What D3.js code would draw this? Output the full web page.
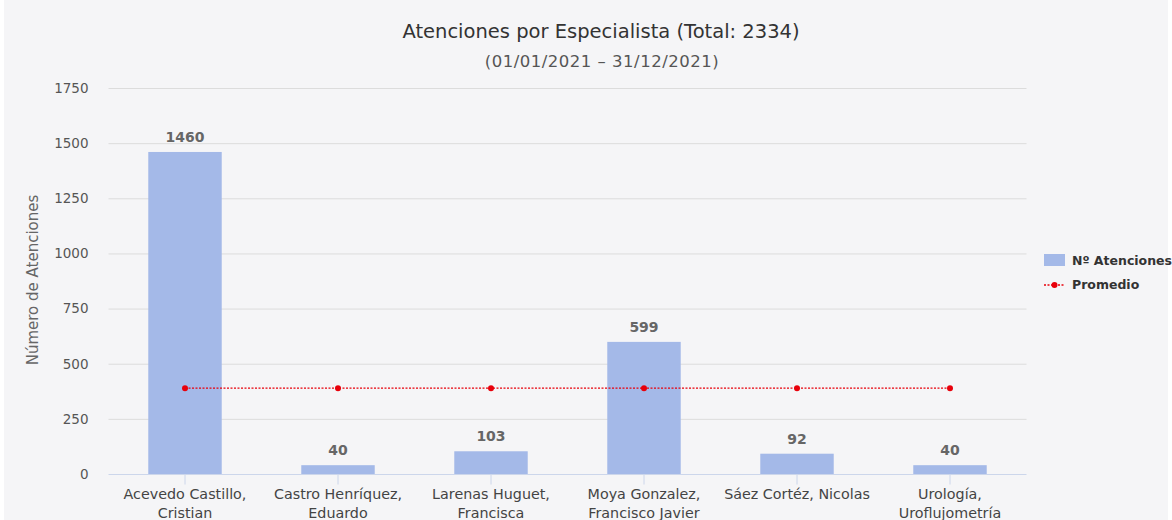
<!DOCTYPE html>
<html>
<head>
<meta charset="utf-8">
<script src="https://cdn.jsdelivr.net/npm/d3@7"></script>
<style>
  body { margin: 0; background: #fff; }
  svg { display: block; font-family: "DejaVu Sans", sans-serif; }
</style>
</head>
<body>
<div id="chart"></div>
<script>
// data
var especialistas = [
    ["Acevedo Castillo,", "Cristian"],
    ["Castro Henríquez,", "Eduardo"],
    ["Larenas Huguet,", "Francisca"],
    ["Moya Gonzalez,", "Francisco Javier"],
    ["Sáez Cortéz, Nicolas"],
    ["Urología,", "Uroflujometría"]
];
var atenciones = [1460, 40, 103, 599, 92, 40];
var promedio = [389, 389, 389, 389, 389, 389];
var yTicks = [0, 250, 500, 750, 1000, 1250, 1500, 1750];

var W = 1172, H = 520;
var plot = { left: 108.5, right: 1026.5, top: 88, bottom: 474 };

var svg = d3.select("#chart").append("svg")
    .attr("width", W)
    .attr("height", H);

svg.append("rect")
    .attr("x", 4).attr("y", 0)
    .attr("width", W - 8).attr("height", H)
    .attr("fill", "#f5f5f7");

var keys = especialistas.map(function (d, i) { return i; });

var x = d3.scaleBand()
    .domain(keys)
    .range([plot.left, plot.right])
    .paddingInner(0.52)
    .paddingOuter(0.26);

var y = d3.scaleLinear()
    .domain([0, 1750])
    .range([plot.bottom, plot.top]);

// gridlines
svg.append("g")
    .selectAll("line")
    .data(yTicks.slice(1))
    .enter()
    .append("line")
    .attr("x1", plot.left)
    .attr("x2", plot.right)
    .attr("y1", function (d) { return y(d) + 0.5; })
    .attr("y2", function (d) { return y(d) + 0.5; })
    .attr("stroke", "#dcdcdc");

// y axis
var yAxis = d3.axisLeft(y).tickValues(yTicks).tickFormat(d3.format("d")).tickSize(0).tickPadding(20);
var gy = svg.append("g")
    .attr("transform", "translate(" + plot.left + ",0)")
    .call(yAxis);
gy.select(".domain").remove();
gy.selectAll("text")
    .attr("fill", "#555")
    .attr("font-size", 13.5)
    .attr("font-family", "DejaVu Sans, sans-serif");

// bars
svg.append("g")
    .selectAll("rect")
    .data(atenciones)
    .enter()
    .append("rect")
    .attr("x", function (d, i) { return x(i); })
    .attr("y", function (d) { return y(d); })
    .attr("width", x.bandwidth())
    .attr("height", function (d) { return y(0) - y(d); })
    .attr("fill", "#a4b9e8");

// data labels
svg.append("g")
    .selectAll("text")
    .data(atenciones)
    .enter()
    .append("text")
    .attr("x", function (d, i) { return x(i) + x.bandwidth() / 2; })
    .attr("y", function (d) { return y(d) - 10; })
    .attr("text-anchor", "middle")
    .attr("font-size", 14)
    .attr("font-weight", "bold")
    .attr("fill", "#666")
    .text(function (d) { return d; });

// x axis
var xAxis = d3.axisBottom(x).tickSize(10).tickFormat("");
var gx = svg.append("g")
    .attr("transform", "translate(0," + (plot.bottom + 0.5) + ")")
    .call(xAxis);
gx.select(".domain")
    .attr("stroke", "#ccd6eb")
    .attr("d", "M" + plot.left + ",0H" + plot.right);
gx.selectAll(".tick line").attr("stroke", "#ccd6eb");

var xl = svg.append("g")
    .selectAll("text")
    .data(especialistas)
    .enter()
    .append("text")
    .attr("x", function (d, i) { return x(i) + x.bandwidth() / 2; })
    .attr("y", 499)
    .attr("text-anchor", "middle")
    .attr("font-size", 14.3)
    .attr("fill", "#444");
xl.selectAll("tspan")
    .data(function (d) { return d; })
    .enter()
    .append("tspan")
    .attr("x", function () { return d3.select(this.parentNode).attr("x"); })
    .attr("dy", function (d, i) { return i == 0 ? 0 : 19; })
    .text(function (d) { return d; });

// average line
var line = d3.line()
    .x(function (d, i) { return x(i) + x.bandwidth() / 2; })
    .y(function (d) { return y(d); });

svg.append("path")
    .datum(promedio)
    .attr("d", line)
    .attr("fill", "none")
    .attr("stroke", "#e8000b")
    .attr("stroke-width", 1.3)
    .attr("stroke-dasharray", "2,1.5");

svg.append("g")
    .selectAll("circle")
    .data(promedio)
    .enter()
    .append("circle")
    .attr("cx", function (d, i) { return x(i) + x.bandwidth() / 2; })
    .attr("cy", function (d) { return y(d); })
    .attr("r", 3)
    .attr("fill", "#e8000b");

// titles
svg.append("text")
    .attr("x", 601)
    .attr("y", 38)
    .attr("text-anchor", "middle")
    .attr("font-size", 19.5)
    .attr("fill", "#333")
    .text("Atenciones por Especialista (Total: 2334)");

svg.append("text")
    .attr("x", 602)
    .attr("y", 67)
    .attr("text-anchor", "middle")
    .attr("font-size", 16.5)
    .attr("letter-spacing", 0.5)
    .attr("fill", "#555")
    .text("(01/01/2021 – 31/12/2021)");

svg.append("text")
    .attr("transform", "rotate(-90)")
    .attr("x", -280)
    .attr("y", 38)
    .attr("text-anchor", "middle")
    .attr("font-size", 15)
    .attr("fill", "#666")
    .text("Número de Atenciones");

// legend
var legend = svg.append("g").attr("transform", "translate(1044,0)");
legend.append("rect")
    .attr("x", 0).attr("y", 254)
    .attr("width", 21).attr("height", 12)
    .attr("fill", "#a4b9e8");
legend.append("text")
    .attr("x", 28).attr("y", 265)
    .attr("font-size", 12.5)
    .attr("font-weight", "bold")
    .attr("fill", "#333")
    .text("Nº Atenciones");
legend.append("line")
    .attr("x1", 0).attr("x2", 21)
    .attr("y1", 285).attr("y2", 285)
    .attr("stroke", "#e8000b")
    .attr("stroke-width", 1.3)
    .attr("stroke-dasharray", "2,1.5");
legend.append("circle")
    .attr("cx", 10.5).attr("cy", 285).attr("r", 3)
    .attr("fill", "#e8000b");
legend.append("text")
    .attr("x", 28).attr("y", 289)
    .attr("font-size", 12.5)
    .attr("font-weight", "bold")
    .attr("fill", "#333")
    .text("Promedio");
</script>
</body>
</html>
